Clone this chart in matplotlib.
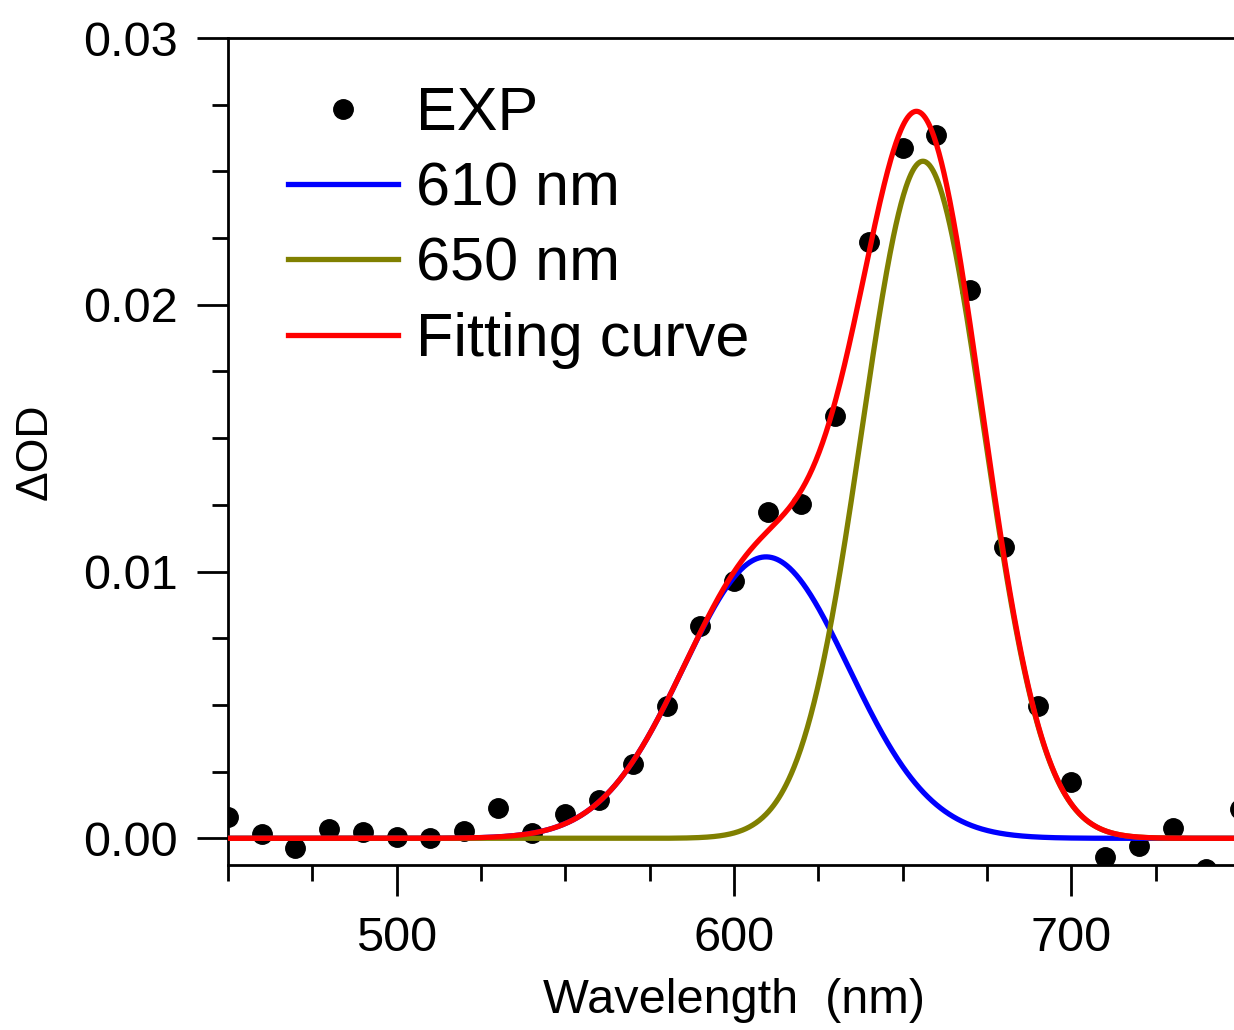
import numpy as np
import matplotlib
matplotlib.use('Agg')
import matplotlib.pyplot as plt
from matplotlib.ticker import MultipleLocator

plt.rcParams['font.family'] = ['Liberation Sans', 'DejaVu Sans']

wl_exp = np.arange(450, 751, 10)
od_exp = [0.00081, 0.00015, -0.00035, 0.00034, 0.00022, 0.00006, 0.00003,
          0.00027, 0.00115, 0.00021, 0.00091, 0.00145, 0.00280, 0.00496,
          0.00797, 0.00964, 0.01225, 0.01254, 0.01582, 0.02237, 0.02586,
          0.02636, 0.02056, 0.01093, 0.00496, 0.00212, -0.00069, -0.00027,
          0.00037, -0.00115, 0.00110]

# gaussian components of the fit: centre (nm), height, sigma (nm)
comp_labels = ['610 nm', '650 nm']
comp_colors = ['#0000ff', '#808000']
comp_center = [609.5, 656.0]
comp_height = [0.01055, 0.02538]
comp_sigma = [24.5, 18.0]

wl = np.linspace(450, 750, 1201)
comps = [h * np.exp(-(wl - c) ** 2 / (2 * s ** 2))
         for c, h, s in zip(comp_center, comp_height, comp_sigma)]
fit = comps[0] + comps[1]

fig = plt.figure(figsize=(12.34, 10.30), dpi=100)
ax = fig.add_axes([228 / 1234, 165 / 1030, 1012 / 1234, 827 / 1030])

ax.plot(wl_exp, od_exp, 'o', color='black', ms=14, label='EXP', zorder=2)
for y, lab, col in zip(comps, comp_labels, comp_colors):
    ax.plot(wl, y, color=col, lw=3.8, label=lab, zorder=3)
ax.plot(wl, fit, color='#ff0000', lw=3.8, label='Fitting curve', zorder=4)

ax.set_xlim(450, 750)
ax.set_ylim(-0.001, 0.03)
ax.xaxis.set_major_locator(MultipleLocator(100))
ax.xaxis.set_minor_locator(MultipleLocator(25))
ax.yaxis.set_major_locator(MultipleLocator(0.01))
ax.yaxis.set_minor_locator(MultipleLocator(0.0025))
ax.yaxis.set_major_formatter(plt.FormatStrFormatter('%.2f'))

for sp in ax.spines.values():
    sp.set_linewidth(2.0)
ax.tick_params(which='both', direction='out', width=2.0, top=False, right=False)
ax.tick_params(which='major', length=22, labelsize=35)
ax.tick_params(axis='x', which='major', pad=15)
ax.tick_params(axis='y', which='major', pad=14)
ax.tick_params(which='minor', length=11.5)

ax.set_xlabel('Wavelength  (nm)', fontsize=35, labelpad=12)
ax.set_ylabel('ΔOD', fontsize=32, labelpad=20)

ax.legend(loc='upper left', bbox_to_anchor=(288 / 1234, 1 - 86 / 1030),
          bbox_transform=fig.transFigure, frameon=False, fontsize=44,
          handlelength=1.8, handletextpad=0.3, labelspacing=0.3,
          borderpad=0, borderaxespad=0, numpoints=1)

fig.savefig('out.png', dpi=100)
